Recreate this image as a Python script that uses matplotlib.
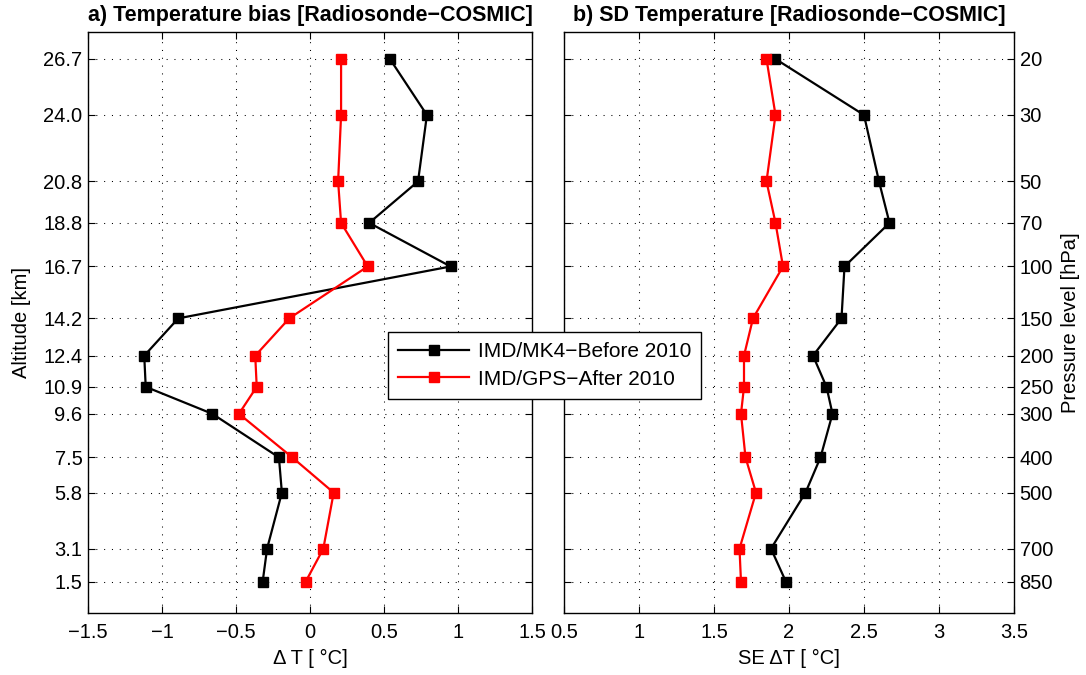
import matplotlib
matplotlib.use("Agg")
import matplotlib.pyplot as plt

plt.rcParams["font.family"] = ["Liberation Sans", "DejaVu Sans"]

# altitude levels (km) and matching pressure levels (hPa)
altitude = [26.7, 24.0, 20.8, 18.8, 16.7, 14.2, 12.4, 10.9, 9.6, 7.5, 5.8, 3.1, 1.5]
pressure = [20, 30, 50, 70, 100, 150, 200, 250, 300, 400, 500, 700, 850]

# a) temperature bias (Radiosonde - COSMIC)
bias_mk4 = [0.54, 0.79, 0.73, 0.40, 0.95, -0.89, -1.12, -1.11, -0.66, -0.21, -0.19, -0.29, -0.32]
bias_gps = [0.21, 0.21, 0.19, 0.21, 0.39, -0.14, -0.37, -0.36, -0.48, -0.12, 0.16, 0.09, -0.03]

# b) SD temperature
sd_mk4 = [1.91, 2.50, 2.60, 2.67, 2.37, 2.35, 2.16, 2.25, 2.29, 2.21, 2.11, 1.88, 1.98]
sd_gps = [1.85, 1.91, 1.85, 1.91, 1.96, 1.76, 1.70, 1.70, 1.68, 1.71, 1.78, 1.67, 1.68]

labels = ["IMD/MK4\u2212Before 2010", "IMD/GPS\u2212After 2010"]

W, H = 1086, 675
FS = 14.5
fig = plt.figure(figsize=(W / 100, H / 100), dpi=100)
ax1 = fig.add_axes([88 / W, 1 - 613 / H, 444 / W, 581 / H])
ax2 = fig.add_axes([564 / W, 1 - 613 / H, 450 / W, 581 / H])

grid_kw = dict(color="k", lw=0.75, ls=(0, (1, 6.5)))
line_kw = dict(lw=1.6, marker="s", ms=7)

for ax, a, b in [(ax1, bias_mk4, bias_gps), (ax2, sd_mk4, sd_gps)]:
    ax.plot(a, altitude, color="k", label=labels[0], **line_kw)
    ax.plot(b, altitude, color="red", label=labels[1], **line_kw)
    ax.set_ylim(0, 28)
    ax.set_yticks(altitude)
    ax.grid(True, **grid_kw)
    ax.tick_params(direction="in", top=True, right=True, labelsize=FS, length=5, width=0.8, pad=7)
    for s in ax.spines.values():
        s.set_linewidth(1.0)

ax1.set_xlim(-1.5, 1.5)
ax1.set_xticks([-1.5, -1, -0.5, 0, 0.5, 1, 1.5])
ax1.set_xticklabels(["\u22121.5", "\u22121", "\u22120.5", "0", "0.5", "1", "1.5"])
ax1.set_yticklabels([f"{v:.1f}" for v in altitude])
ax1.tick_params(axis="y", pad=4)
ax1.set_xlabel("\u0394 T [ \u00b0C]", fontsize=FS, labelpad=5)
ax1.set_ylabel("Altitude [km]", fontsize=FS, labelpad=9)
ax1.set_title("a) Temperature bias [Radiosonde\u2212COSMIC]", fontsize=15.5, fontweight="bold", pad=8)

ax2.set_xlim(0.5, 3.5)
ax2.set_xticks([0.5, 1, 1.5, 2, 2.5, 3, 3.5])
ax2.set_xticklabels(["0.5", "1", "1.5", "2", "2.5", "3", "3.5"])
ax2.tick_params(labelleft=False, labelright=True)
ax2.tick_params(axis="y", pad=4)
ax2.set_yticklabels([str(p) for p in pressure])
ax2.yaxis.set_label_position("right")
ax2.set_ylabel("Pressure level [hPa]", fontsize=FS, labelpad=6)
ax2.set_xlabel("SE \u0394T [ \u00b0C]", fontsize=FS, labelpad=5)
ax2.set_title("b) SD Temperature [Radiosonde\u2212COSMIC]", fontsize=15.5, fontweight="bold", pad=8)

h, l = ax1.get_legend_handles_labels()
leg = fig.legend(h, l, loc="upper left", bbox_to_anchor=(388 / W, 1 - 332 / H),
                 fontsize=15, handlelength=3.4, handletextpad=0.4, fancybox=False, framealpha=1,
                 borderpad=0.5, labelspacing=0.4, borderaxespad=0)
leg.get_frame().set_edgecolor("k")
leg.get_frame().set_linewidth(1.0)

fig.savefig("out.png", dpi=100)
